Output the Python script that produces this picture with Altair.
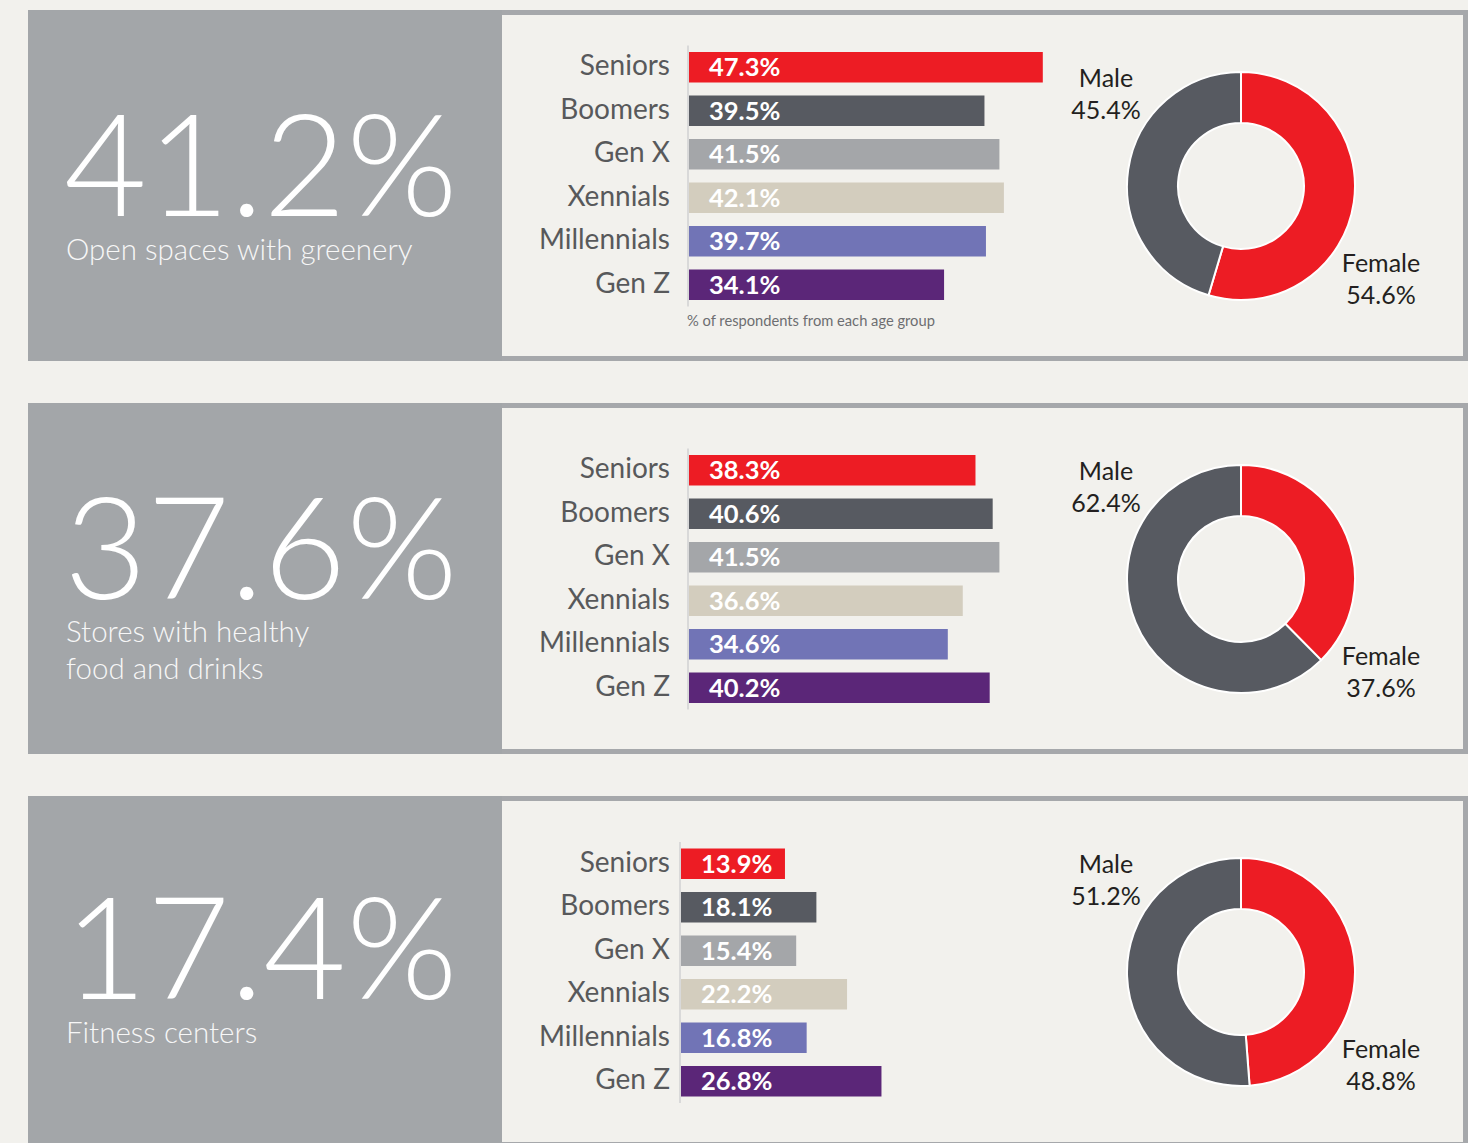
import altair as alt
import pandas as pd

# ---------------- data ----------------
categories = ["Seniors", "Boomers", "Gen X", "Xennials", "Millennials", "Gen Z"]
bar_colors = ["#ed1c24", "#575a61", "#a4a6a9", "#d3cdbe", "#7174b6", "#5b2678"]

open_spaces = [47.3, 39.5, 41.5, 42.1, 39.7, 34.1]
healthy_stores = [38.3, 40.6, 41.5, 36.6, 34.6, 40.2]
fitness_centers = [13.9, 18.1, 15.4, 22.2, 16.8, 26.8]
row_values = [open_spaces, healthy_stores, fitness_centers]

headlines = [41.2, 37.6, 17.4]
titles = ["Open spaces with greenery", "Stores with healthy\nfood and drinks", "Fitness centers"]

genders = ["Female", "Male"]
gender_colors = ["#ed1c24", "#575a61"]
female_share = [54.6, 37.6, 48.8]
male_share = [45.4, 62.4, 51.2]

footnote = "% of respondents from each age group"

# ---------------- style / layout ----------------
BG = "#f2f1ed"
LEFT_FILL = "#a3a6a9"
BORDER = "#a6a8ab"
FONT = "Lato"
LEFT_W, RIGHT_W, ROW_H = 474, 966, 351
BW = 5  # border thickness

big_base = [206, 196, 203]
sub_base = [250, 239, 247]
bar_x0 = [187, 187, 179]
band_y0 = [35.5, 45.5, 46]
PX_PER_100 = 748
BAND_LEN = 261


def left_panel(i):
    df = pd.DataFrame({"big": [f"{headlines[i]}%"], "sub": [titles[i]]})
    base = alt.Chart(df)
    fill = base.mark_rect(color=LEFT_FILL).encode(
        x=alt.value(0), x2=alt.value(LEFT_W), y=alt.value(0), y2=alt.value(ROW_H))
    big = base.mark_text(align="left", baseline="alphabetic", font=FONT, fontWeight=300,
                         fontSize=143, color="white").encode(
        x=alt.value(36), y=alt.value(big_base[i]), text="big:N")
    sub = base.mark_text(align="left", baseline="alphabetic", font=FONT, fontWeight=300,
                         fontSize=29.5, color="#f7f7f7", lineBreak="\n", lineHeight=37).encode(
        x=alt.value(38), y=alt.value(sub_base[i]), text="sub:N")
    return alt.layer(fill, big, sub).properties(width=LEFT_W, height=ROW_H)


def right_panel(i):
    vals = row_values[i]
    df = pd.DataFrame({
        "category": categories, "value": vals, "color": bar_colors,
        "label": [f"{v}%" for v in vals]})
    xs = alt.Scale(domain=[0, 100], range=[bar_x0[i], bar_x0[i] + PX_PER_100])
    ys = alt.Scale(domain=categories, range=[band_y0[i], band_y0[i] + BAND_LEN],
                   paddingInner=0.3, paddingOuter=0.15)
    X = alt.X("value:Q", scale=xs, axis=None)
    Y = alt.Y("category:N", scale=ys, axis=None)

    one = alt.Chart(pd.DataFrame({"k": [0]}))

    top = one.mark_rect(color=BORDER).encode(
        x=alt.value(0), x2=alt.value(RIGHT_W), y=alt.value(0), y2=alt.value(BW))
    bottom = one.mark_rect(color=BORDER).encode(
        x=alt.value(0), x2=alt.value(RIGHT_W), y=alt.value(ROW_H - BW), y2=alt.value(ROW_H))
    right = one.mark_rect(color=BORDER).encode(
        x=alt.value(RIGHT_W - BW), x2=alt.value(RIGHT_W), y=alt.value(0), y2=alt.value(ROW_H))

    bars = alt.Chart(df).mark_bar().encode(
        x=X, y=Y, color=alt.Color("color:N", scale=None))
    axis_line = one.mark_rect(color="#d9d9d9").encode(
        x=alt.value(bar_x0[i] - 2), x2=alt.value(bar_x0[i]),
        y=alt.value(band_y0[i]), y2=alt.value(band_y0[i] + BAND_LEN))
    cat_labels = alt.Chart(df).mark_text(
        align="right", baseline="middle", font=FONT, fontSize=28, color="#58595b", dy=0).encode(
        x=alt.value(168), y=Y, text="category:N")
    val_labels = alt.Chart(df).mark_text(
        align="left", baseline="middle", font=FONT, fontWeight="bold", fontSize=25.5,
        color="white", dy=1).encode(
        x=alt.value(bar_x0[i] + 20), y=Y, text="label:N")

    gdf = pd.DataFrame({
        "gender": genders,
        "share": [female_share[i], male_share[i]],
        "color": gender_colors,
        "idx": [0, 1],
        "pct": [f"{female_share[i]}%", f"{male_share[i]}%"]})
    donut = alt.Chart(gdf).mark_arc(innerRadius=63, outerRadius=114, stroke="white",
                                    strokeWidth=2).encode(
        theta=alt.Theta("share:Q", stack=True),
        order=alt.Order("idx:Q"),
        color=alt.Color("color:N", scale=None),
        x=alt.value(739), y=alt.value(176))

    def glabel(g, field, cx, by):
        return alt.Chart(gdf).transform_filter(alt.datum.gender == g).mark_text(
            align="center", baseline="alphabetic", font=FONT, fontSize=25, color="#231f20").encode(
            x=alt.value(cx), y=alt.value(by), text=f"{field}:N")

    labels = [
        glabel("Male", "gender", 604, 77),
        glabel("Male", "pct", 604, 109),
        glabel("Female", "gender", 879, 262),
        glabel("Female", "pct", 879, 294),
    ]

    layers = [top, bottom, right, axis_line, bars, cat_labels, val_labels, donut] + labels
    if i == 0:
        fdf = pd.DataFrame({"t": [footnote]})
        note = alt.Chart(fdf).mark_text(
            align="left", baseline="middle", font=FONT, fontSize=14.7, color="#6d6e71").encode(
            x=alt.value(bar_x0[i] - 2), y=alt.value(312), text="t:N")
        layers.append(note)
    return alt.layer(*layers).properties(width=RIGHT_W, height=ROW_H)


rows = [alt.hconcat(left_panel(i), right_panel(i), spacing=0) for i in range(3)]
chart = alt.vconcat(*rows, spacing=42).properties(
    background=BG,
    padding={"left": 28, "top": 10, "right": 0, "bottom": 0},
).configure_view(strokeWidth=0)

chart.save("out.html", embed_options={"renderer": "svg", "actions": False})
